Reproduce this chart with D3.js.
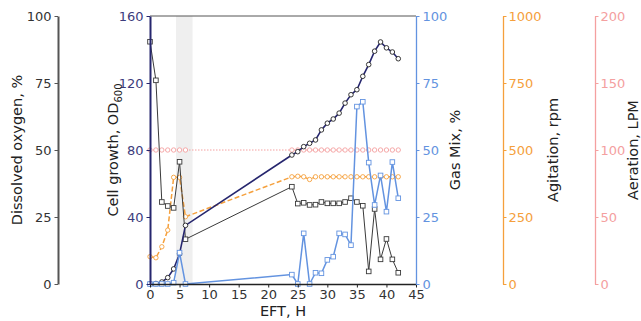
<!DOCTYPE html>
<html>
<head>
<meta charset="utf-8">
<script src="https://cdn.jsdelivr.net/npm/d3@7"></script>
<style>
  body { margin: 0; background: #fff; }
  text { font-family: 'DejaVu Sans', sans-serif; }
</style>
</head>
<body>
<script>
// sampling times, hours
var hours = [0, 1, 2, 3, 4, 5, 6,
    24, 25, 26, 27, 28, 29, 30, 31, 32, 33, 34, 35, 36, 37, 38, 39, 40, 41, 42];

// cell growth, OD600
var od = [0, 0.3, 1.2, 3.8, 9, 18, 35,
    77, 79, 82, 84, 86, 92, 96, 98.5, 102, 108, 113, 116, 124, 131, 139, 144.5, 141, 138.5, 134.5];

// dissolved oxygen, %
var dOxygen = [90.4, 76, 30.6, 29.1, 28.4, 45.6, 16.7,
    36.3, 30, 30.3, 29.5, 29.6, 30.6, 30.1, 30.1, 30.1, 30.6, 32, 30.6, 29.2, 4.7, 28, 9.2, 16.8, 9.2, 4.2];

// gas mix, %
var gasMix = [0, 0, 0, 0, 0.5, 11.7, 0,
    3.5, 0, 18.9, 0, 4.2, 4, 9, 10.2, 18.9, 18.5, 14.5, 66.2, 68, 45.3, 29.5, 40.5, 27, 45.5, 32];

// agitation, rpm
var agitation = [102, 98, 139, 201, 398, 398, 251,
    400, 402, 400, 390, 400, 400, 400, 400, 400, 400, 400, 400, 400, 400, 400, 400, 400, 400, 400];

// aeration, LPM
var aeration = [100, 100, 100, 100, 100, 100, 100,
    100, 100, 100, 100, 100, 100, 100, 100, 100, 100, 100, 100, 100, 100, 100, 100, 100, 100, 100];

// shaded induction window, hours
var shade = [4.4, 7.2];

var xTicks = [0, 5, 10, 15, 20, 25, 30, 35, 40, 45];

// colours
var colorOD = '#26266e',
    colorODText = '#3c3c7c',
    colorDO = '#3a3a3a',
    colorGas = '#6393e0',
    colorAg = '#f5a03c',
    colorAer = '#f4a0a0';

var W = 641, H = 321;
var plotL = 150, plotR = 416, plotT = 16, plotB = 284;

var svg = d3.select('body').append('svg')
    .attr('width', W)
    .attr('height', H);

var x = d3.scaleLinear().domain([0, 45]).range([plotL, plotR]);
var yOD = d3.scaleLinear().domain([0, 160]).range([plotB, plotT]);
var yDO = d3.scaleLinear().domain([0, 100]).range([plotB, plotT]);
var yGas = d3.scaleLinear().domain([0, 100]).range([plotB, plotT]);
var yAg = d3.scaleLinear().domain([0, 1000]).range([plotB, plotT]);
var yAer = d3.scaleLinear().domain([0, 200]).range([plotB, plotT]);

// shaded window
svg.append('rect')
    .attr('x', x(shade[0]))
    .attr('y', plotT)
    .attr('width', x(shade[1]) - x(shade[0]))
    .attr('height', plotB - plotT)
    .attr('fill', '#efefef');

// helper to style an axis
function styleAxis(g, color, textColor) {
    g.selectAll('path').attr('stroke', color).attr('stroke-width', 1.3);
    g.selectAll('line').attr('stroke', color).attr('stroke-width', 1);
    g.selectAll('text').attr('fill', textColor).attr('font-size', 13);
}

function series(values, yScale) {
    return hours.map(function (h, i) { return [x(h), yScale(values[i])]; });
}

var line = d3.line();

// aeration
var aerPts = series(aeration, yAer);
svg.append('path').attr('d', line(aerPts))
    .attr('fill', 'none').attr('stroke', colorAer)
    .attr('stroke-width', 1).attr('stroke-dasharray', '1.5,1.5');
svg.append('g').selectAll('circle').data(aerPts).enter().append('circle')
    .attr('cx', function (d) { return d[0]; })
    .attr('cy', function (d) { return d[1]; })
    .attr('r', 2.2)
    .attr('fill', 'white').attr('stroke', colorAer).attr('stroke-width', 0.9);

// agitation
var agPts = series(agitation, yAg);
svg.append('path').attr('d', line(agPts))
    .attr('fill', 'none').attr('stroke', colorAg)
    .attr('stroke-width', 1.5).attr('stroke-dasharray', '5,2.5');
svg.append('g').selectAll('circle').data(agPts).enter().append('circle')
    .attr('cx', function (d) { return d[0]; })
    .attr('cy', function (d) { return d[1]; })
    .attr('r', 2.2)
    .attr('fill', 'white').attr('stroke', colorAg).attr('stroke-width', 0.9);

// dissolved oxygen
var doPts = series(dOxygen, yDO);
svg.append('path').attr('d', line(doPts))
    .attr('fill', 'none').attr('stroke', colorDO).attr('stroke-width', 1);
svg.append('g').selectAll('rect').data(doPts).enter().append('rect')
    .attr('x', function (d) { return d[0] - 2.3; })
    .attr('y', function (d) { return d[1] - 2.3; })
    .attr('width', 4.6).attr('height', 4.6)
    .attr('fill', 'white').attr('stroke', colorDO).attr('stroke-width', 0.9);

// cell growth
var odPts = series(od, yOD);
svg.append('path').attr('d', line(odPts))
    .attr('fill', 'none').attr('stroke', colorOD).attr('stroke-width', 1.6);
svg.append('g').selectAll('circle').data(odPts).enter().append('circle')
    .attr('cx', function (d) { return d[0]; })
    .attr('cy', function (d) { return d[1]; })
    .attr('r', 2.3)
    .attr('fill', 'white').attr('stroke', '#222').attr('stroke-width', 0.9);

// gas mix
var gasPts = series(gasMix, yGas);
svg.append('path').attr('d', line(gasPts))
    .attr('fill', 'none').attr('stroke', colorGas).attr('stroke-width', 1.5);
svg.append('g').selectAll('rect').data(gasPts).enter().append('rect')
    .attr('x', function (d) { return d[0] - 2.3; })
    .attr('y', function (d) { return d[1] - 2.3; })
    .attr('width', 4.6).attr('height', 4.6)
    .attr('fill', 'white').attr('stroke', colorGas).attr('stroke-width', 0.9);

// top frame
svg.append('line')
    .attr('x1', plotL).attr('x2', plotR).attr('y1', plotT).attr('y2', plotT)
    .attr('stroke', '#555').attr('stroke-width', 1);

// x axis
var gx = svg.append('g').attr('transform', 'translate(0,' + plotB + ')')
    .call(d3.axisBottom(x).tickValues(xTicks).tickSize(3.5).tickPadding(2).tickSizeOuter(0));
styleAxis(gx, '#222', '#333');

// cell growth axis
var gOD = svg.append('g').attr('transform', 'translate(' + plotL + ',0)')
    .call(d3.axisLeft(yOD).tickValues([0, 40, 80, 120, 160]).tickSize(3.5).tickPadding(3).tickSizeOuter(0));
styleAxis(gOD, colorOD, colorODText);
gOD.select('path').attr('stroke-width', 2);

// gas mix axis
var gGas = svg.append('g').attr('transform', 'translate(' + plotR + ',0)')
    .call(d3.axisRight(yGas).tickValues([0, 25, 50, 75, 100]).tickSize(3.5).tickPadding(3).tickSizeOuter(0));
styleAxis(gGas, colorGas, colorGas);

// dissolved oxygen axis
var gDO = svg.append('g').attr('transform', 'translate(58,0)')
    .call(d3.axisLeft(yDO).tickValues([0, 25, 50, 75, 100]).tickSize(3.5).tickPadding(3).tickSizeOuter(0));
styleAxis(gDO, '#555', '#333');
gDO.select('path').attr('stroke-width', 2);

// agitation axis
var gAg = svg.append('g').attr('transform', 'translate(503,0)')
    .call(d3.axisRight(yAg).tickValues([0, 250, 500, 750, 1000]).tickFormat(d3.format('d'))
        .tickSize(3.5).tickPadding(2).tickSizeOuter(0));
styleAxis(gAg, colorAg, colorAg);

// aeration axis
var gAer = svg.append('g').attr('transform', 'translate(595,0)')
    .call(d3.axisRight(yAer).tickValues([0, 50, 100, 150, 200]).tickSize(3.5).tickPadding(2).tickSizeOuter(0));
styleAxis(gAer, colorAer, colorAer);

// axis titles
var mid = (plotT + plotB) / 2;
function vTitle(xPos, txt) {
    return svg.append('text')
        .attr('transform', 'translate(' + xPos + ',' + mid + ') rotate(-90)')
        .attr('text-anchor', 'middle')
        .attr('font-size', 14.5)
        .attr('fill', '#222')
        .text(txt);
}
vTitle(22, 'Dissolved oxygen, %');
var odTitle = vTitle(118, 'Cell growth, OD');
odTitle.append('tspan').attr('font-size', 10).attr('dy', 4).text('600');
vTitle(460, 'Gas Mix, %');
vTitle(558, 'Agitation, rpm');
vTitle(638, 'Aeration, LPM');

svg.append('text')
    .attr('x', (plotL + plotR) / 2)
    .attr('y', 316)
    .attr('text-anchor', 'middle')
    .attr('font-size', 14.5)
    .attr('fill', '#222')
    .text('EFT, H');
</script>
</body>
</html>
